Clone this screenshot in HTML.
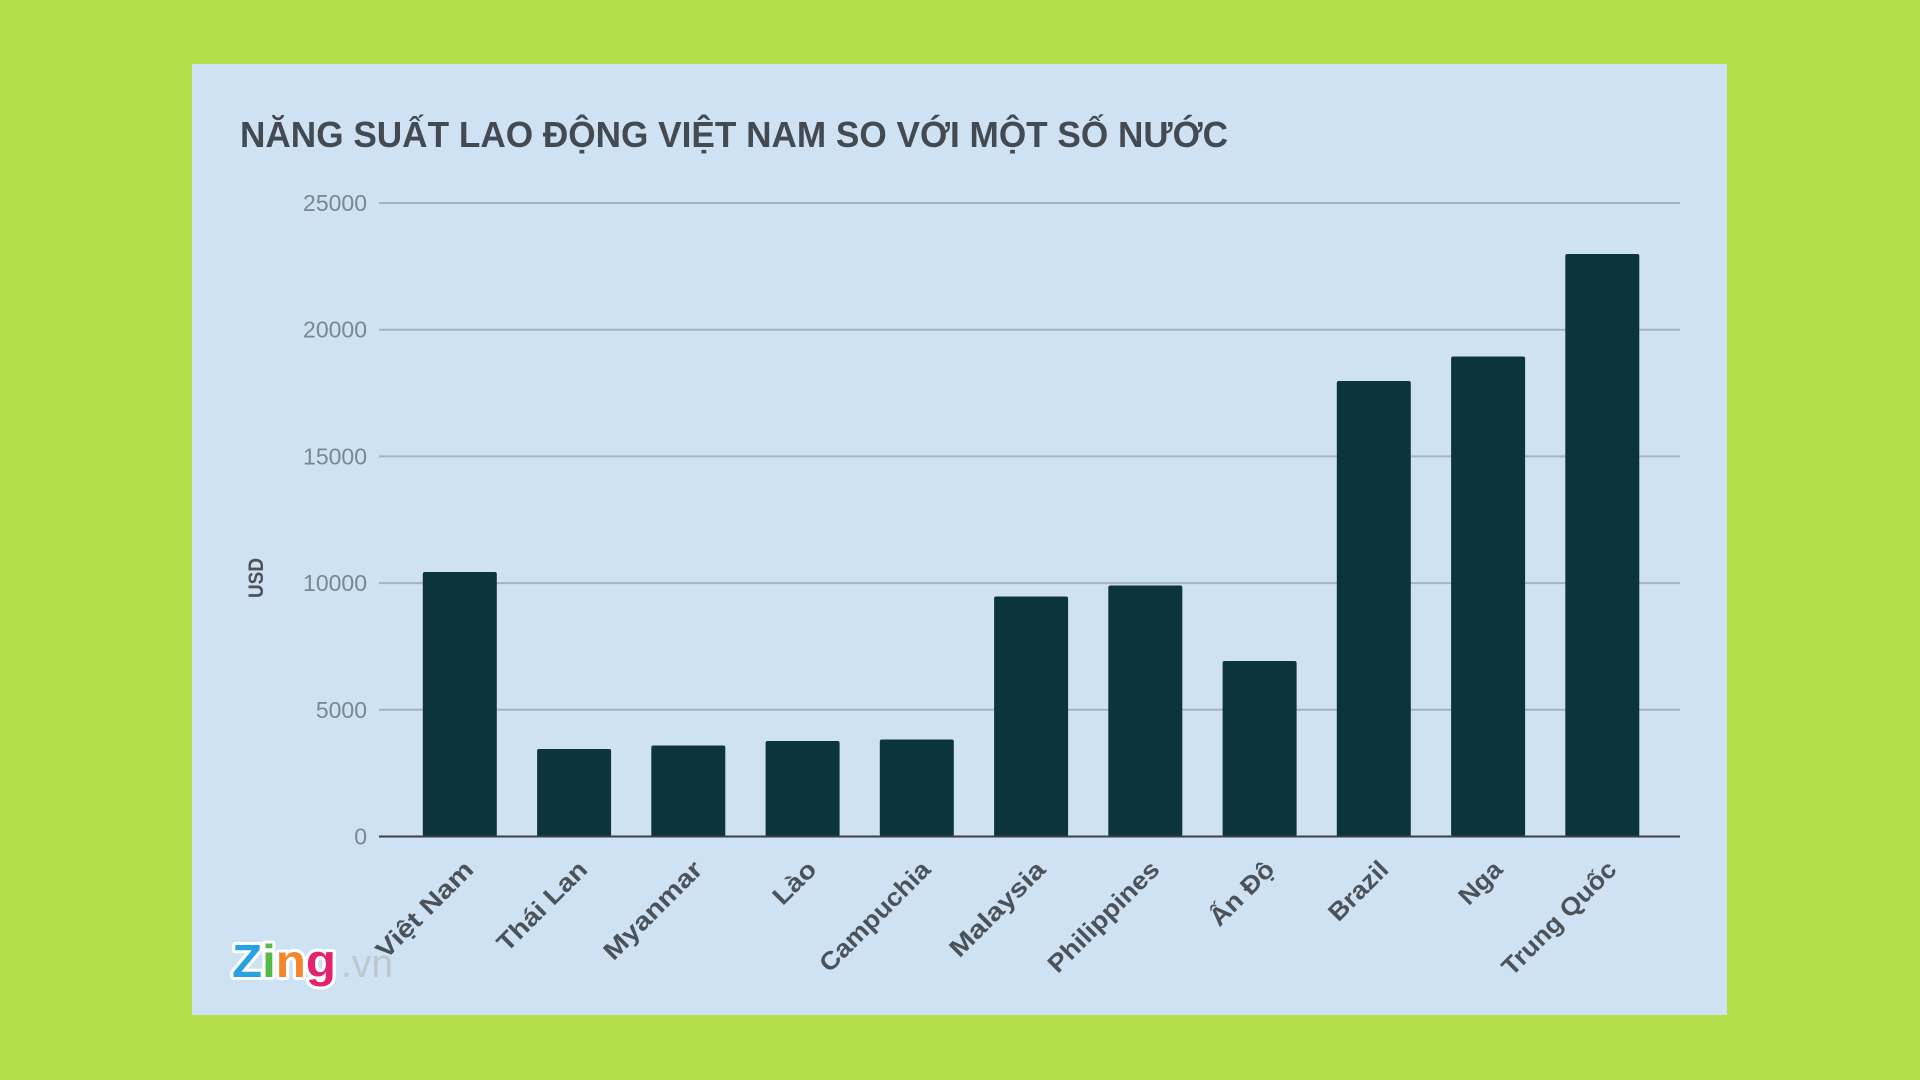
<!DOCTYPE html>
<html><head><meta charset="utf-8"><style>
html,body{margin:0;padding:0;background:#b5de4b;}
svg{display:block;}
</style></head><body>
<svg width="1920" height="1080" viewBox="0 0 1920 1080" xmlns="http://www.w3.org/2000/svg">
<rect x="0" y="0" width="1920" height="1080" fill="#b5de4b"/>
<rect x="192" y="64" width="1535" height="951" fill="#cfe2f3"/>
<text x="240" y="147" font-family="Liberation Sans, sans-serif" font-weight="bold" font-size="36" fill="#434a51" textLength="988" lengthAdjust="spacingAndGlyphs">NĂNG SUẤT LAO ĐỘNG VIỆT NAM SO VỚI MỘT SỐ NƯỚC</text>
<g stroke="#a3b3bf" stroke-width="2">
<line x1="379" y1="203" x2="1680" y2="203"/>
<line x1="379" y1="329.7" x2="1680" y2="329.7"/>
<line x1="379" y1="456.4" x2="1680" y2="456.4"/>
<line x1="379" y1="583.1" x2="1680" y2="583.1"/>
<line x1="379" y1="709.8" x2="1680" y2="709.8"/>
</g>
<g font-family="Liberation Sans, sans-serif" font-size="23" fill="#7b868e" text-anchor="end">
<text x="367" y="211">25000</text>
<text x="367" y="337.7">20000</text>
<text x="367" y="464.4">15000</text>
<text x="367" y="591.1">10000</text>
<text x="367" y="717.8">5000</text>
<text x="367" y="844.5">0</text>
</g>
<text transform="translate(263,578) rotate(-90)" text-anchor="middle" font-family="Liberation Sans, sans-serif" font-weight="bold" font-size="21" fill="#4b5259" textLength="40" lengthAdjust="spacingAndGlyphs">USD</text>
<g fill="#0c343d">
<rect x="422.8" y="572" width="74" height="264.5" rx="2"/>
<rect x="537.1" y="749" width="74" height="87.5" rx="2"/>
<rect x="651.3" y="745.5" width="74" height="91" rx="2"/>
<rect x="765.6" y="741" width="74" height="95.5" rx="2"/>
<rect x="879.8" y="739.5" width="74" height="97" rx="2"/>
<rect x="994.1" y="596.5" width="74" height="240" rx="2"/>
<rect x="1108.3" y="585.5" width="74" height="251" rx="2"/>
<rect x="1222.6" y="661" width="74" height="175.5" rx="2"/>
<rect x="1336.8" y="381" width="74" height="455.5" rx="2"/>
<rect x="1451.1" y="356.5" width="74" height="480" rx="2"/>
<rect x="1565.3" y="254" width="74" height="582.5" rx="2"/>
</g>
<line x1="379" y1="836.5" x2="1680" y2="836.5" stroke="#3a3f44" stroke-width="2"/>
<g font-family="Liberation Sans, sans-serif" font-weight="bold" font-size="25" fill="#4b5259" text-anchor="end">
<text transform="translate(475,871) rotate(-45)" textLength="126" lengthAdjust="spacingAndGlyphs">Việt Nam</text>
<text transform="translate(589,871) rotate(-45)" textLength="116" lengthAdjust="spacingAndGlyphs">Thái Lan</text>
<text transform="translate(704,871) rotate(-45)" textLength="128" lengthAdjust="spacingAndGlyphs">Myanmar</text>
<text transform="translate(818,871) rotate(-45)" textLength="50" lengthAdjust="spacingAndGlyphs">Lào</text>
<text transform="translate(932,871) rotate(-45)" textLength="145" lengthAdjust="spacingAndGlyphs">Campuchia</text>
<text transform="translate(1047,871) rotate(-45)" textLength="124" lengthAdjust="spacingAndGlyphs">Malaysia</text>
<text transform="translate(1161,871) rotate(-45)" textLength="146" lengthAdjust="spacingAndGlyphs">Philippines</text>
<text transform="translate(1276,871) rotate(-45)" textLength="80" lengthAdjust="spacingAndGlyphs">Ấn Độ</text>
<text transform="translate(1390,871) rotate(-45)" textLength="73" lengthAdjust="spacingAndGlyphs">Brazil</text>
<text transform="translate(1504,871) rotate(-45)" textLength="50" lengthAdjust="spacingAndGlyphs">Nga</text>
<text transform="translate(1618,871) rotate(-45)" textLength="150" lengthAdjust="spacingAndGlyphs">Trung Quốc</text>
</g>
<g font-family="Liberation Sans, sans-serif" font-weight="bold" font-size="46" stroke="#ffffff" stroke-width="6" stroke-linejoin="round" paint-order="stroke">
<text x="232" y="977" textLength="104" lengthAdjust="spacingAndGlyphs"><tspan fill="#27a2e2">Z</tspan><tspan fill="#57b947">i</tspan><tspan fill="#f3862a">n</tspan><tspan fill="#e4236f">g</tspan></text>
</g>
<text x="341" y="977" font-family="Liberation Sans, sans-serif" font-size="40" fill="#bdc7cd" textLength="52" lengthAdjust="spacingAndGlyphs">.vn</text>
</svg>
</body></html>
